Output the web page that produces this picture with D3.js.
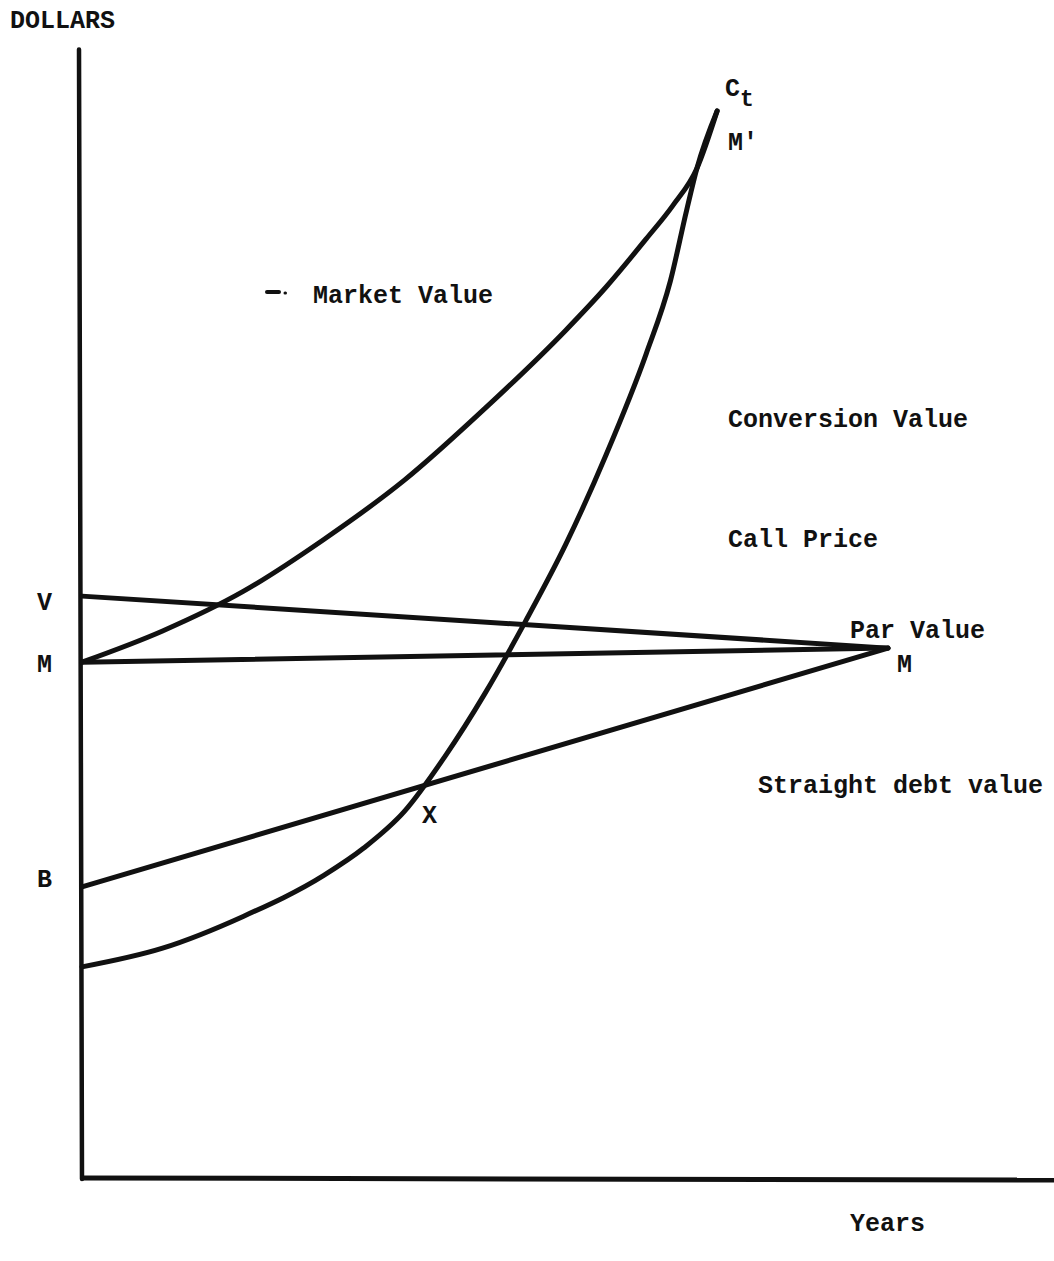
<!DOCTYPE html>
<html>
<head>
<meta charset="utf-8">
<script src="https://cdn.jsdelivr.net/npm/d3@7"></script>
<style>
  html, body { margin: 0; padding: 0; background: #fff; }
  svg { display: block; }
  text { font-family: "Liberation Mono", "DejaVu Sans Mono", monospace; font-weight: bold; fill: #111; }
</style>
</head>
<body>
<svg id="chart" width="1054" height="1261"></svg>
<script>
// ---- Data (years, dollars) ----
const maturity = 10;
// Call price line: V at issue declining to par at maturity
const callPrice = [[0, 111.9], [10, 101.9]];
// Par value line M -> M
const parValue = [[0, 99.2], [10, 101.9]];
// Straight debt value B -> M
const straightDebt = [[0, 56.0], [10, 101.9]];
// Conversion value curve C_t
const conversionValue = [
  [0, 40.6], [1, 44.2], [2, 50.3], [3, 58.2], [3.5, 63.5], [4, 70.5], [4.5, 81.0],
  [5, 93.2], [5.5, 107.0], [6, 121.8], [6.5, 139.0], [7, 158.5], [7.3, 172.5],
  [7.5, 186.0], [7.63, 194.2], [7.88, 205.2]
];
// Market value curve from M to M'
const marketValue = [
  [0, 99.2], [1, 105.2], [2, 112.8], [3, 122.8], [4, 134.2], [5, 148.0],
  [6, 163.0], [6.5, 171.3], [7, 180.6], [7.33, 187.0], [7.63, 194.2], [7.88, 205.2]
];
const xIntersection = [4.23, 75.2];
const regionLabels = ["Market Value", "Conversion Value", "Call Price", "Par Value", "Straight debt value"];

// ---- Layout ----
const W = 1054, H = 1261;
const svg = d3.select("#chart");
const x = d3.scaleLinear().domain([0, 12]).range([82, 1049.2]);
const y = d3.scaleLinear().domain([0, 217]).range([1178, 49.6]);
const line = d3.line().x(d => x(d[0])).y(d => y(d[1]));
const curve = d3.line().x(d => x(d[0])).y(d => y(d[1])).curve(d3.curveMonotoneX);

const ink = "#111";
const axisG = svg.append("g");
// Y axis (DOLLARS)
axisG.append("line")
  .attr("x1", x(0) - 3).attr("y1", y(217))
  .attr("x2", x(0)).attr("y2", y(0) + 1)
  .attr("stroke", ink).attr("stroke-width", 4.5).attr("stroke-linecap", "round");
// X axis (Years)
axisG.append("line")
  .attr("x1", x(0) - 1).attr("y1", y(0))
  .attr("x2", W).attr("y2", y(0) + 2)
  .attr("stroke", ink).attr("stroke-width", 5);

const g = svg.append("g").attr("fill", "none").attr("stroke", ink)
  .attr("stroke-width", 5).attr("stroke-linecap", "round").attr("stroke-linejoin", "round");
[callPrice, parValue, straightDebt].forEach(d => g.append("path").attr("d", line(d)));
g.append("path").attr("d", curve(conversionValue));
g.append("path").attr("d", curve(marketValue));
// small legend mark beside "Market Value"
g.append("path").attr("d", d3.line()([[267, 292], [279, 292]])).attr("stroke-width", 4);
g.append("path").attr("d", d3.line()([[285, 293], [285.5, 293]])).attr("stroke-width", 3);

const fs = 25;
const t = svg.append("g").attr("font-size", fs);
function label(txt, px, py, size) {
  return t.append("text").attr("x", px).attr("y", py).attr("font-size", size || fs).text(txt);
}
label("DOLLARS", 10, 28, 25);
label(regionLabels[0], 313, 303);
label(regionLabels[1], 728, 427);
label(regionLabels[2], 728, 547);
label(regionLabels[3], 850, 638);
label(regionLabels[4], 758, 793);
label("Years", 850, 1231);
// point labels
label("V", 37, y(callPrice[0][1]) + 14);
label("M", 37, y(parValue[0][1]) + 10);
label("B", 37, y(straightDebt[0][1]) + 0);
label("M", x(maturity) + 9, y(parValue[1][1]) + 24);
label("X", x(xIntersection[0]) - 1, y(xIntersection[1]) + 36);
const ct = t.append("text").attr("x", 725).attr("y", 96);
ct.append("tspan").text("C");
ct.append("tspan").attr("dy", 10).attr("font-size", 23).text("t");
label("M'", 728, 150);
</script>
</body>
</html>
